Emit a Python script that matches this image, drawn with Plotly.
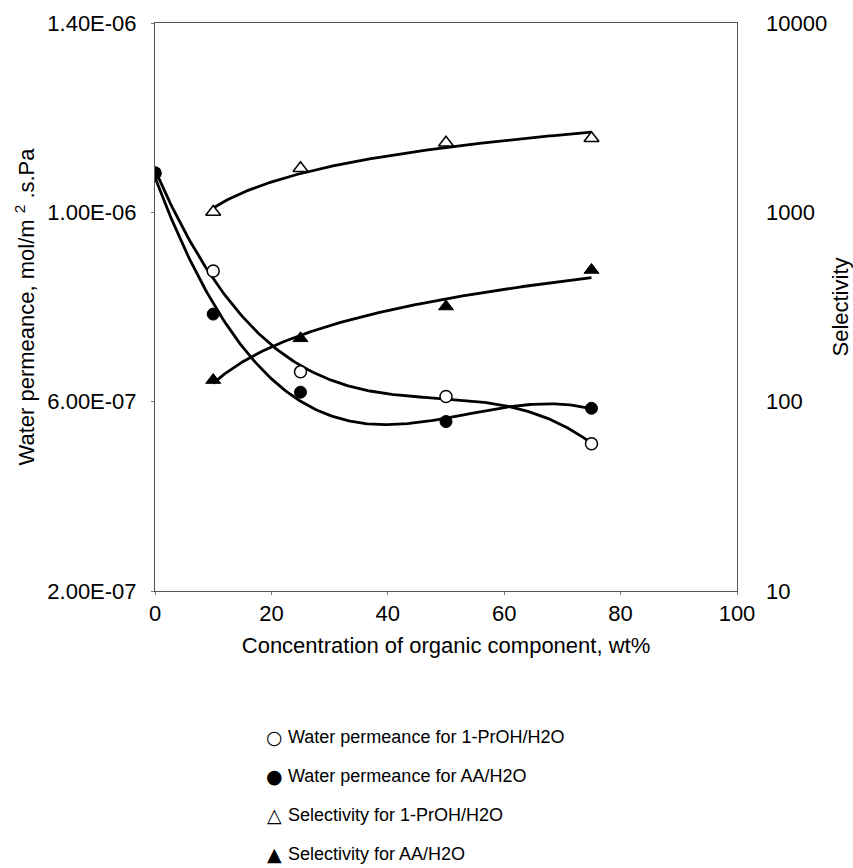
import numpy as np
import plotly.graph_objects as go

# Concentration of organic component (wt%)
conc_perm = [0, 10, 25, 50, 75]
conc_sel = [10, 25, 50, 75]

# Water permeance, mol/m2.s.Pa
perm_proh = [1.083e-6, 0.876e-6, 0.663e-6, 0.611e-6, 0.511e-6]
perm_aa = [1.083e-6, 0.785e-6, 0.620e-6, 0.558e-6, 0.586e-6]

# Selectivity
sel_proh = [1005, 1710, 2330, 2460]
sel_aa = [130, 216, 318, 496]

y1_ticks = [2.0e-7, 6.0e-7, 1.0e-6, 1.4e-6]
y1_ticktext = ["2.00E-07", "6.00E-07", "1.00E-06", "1.40E-06"]
y2_ticks = [10, 100, 1000, 10000]
y2_ticktext = ["10", "100", "1000", "10000"]

series_names = [
    "Water permeance for 1-PrOH/H2O",
    "Water permeance for AA/H2O",
    "Selectivity for 1-PrOH/H2O",
    "Selectivity for AA/H2O",
]
series_glyphs = ["○", "●", "△", "▲"]
glyph_sizes = [19, 19, 19, 19]

FONT = "Liberation Sans, Arial, sans-serif"
BLACK = "#000000"


def poly_trend(x, y, deg=3, n=200):
    """Polynomial trendline across the data range."""
    c = np.polyfit(x, y, deg)
    xs = np.linspace(min(x), max(x), n)
    return xs, np.polyval(c, xs)


def power_trend(x, y, n=200):
    """Power trendline y = a*x^b (least squares in log-log space)."""
    b, ln_a = np.polyfit(np.log(x), np.log(y), 1)
    xs = np.linspace(min(x), max(x), n)
    return xs, np.exp(ln_a) * xs ** b


fig = go.Figure()

line_style = dict(color=BLACK, width=2.8)

# trendlines
for xs, ys, axis in [
    (*poly_trend(conc_perm, perm_proh), "y"),
    (*poly_trend(conc_perm, perm_aa), "y"),
    (*power_trend(conc_sel, sel_proh), "y2"),
    (*power_trend(conc_sel, sel_aa), "y2"),
]:
    fig.add_trace(go.Scatter(x=xs, y=ys, mode="lines", line=line_style,
                             yaxis=axis, showlegend=False, hoverinfo="skip"))

# data markers
markers = [
    (conc_perm, perm_proh, "y", dict(symbol="circle", color="white", size=12,
                                      line=dict(color=BLACK, width=1.5))),
    (conc_perm, perm_aa, "y", dict(symbol="circle", color=BLACK, size=12,
                                    line=dict(color=BLACK, width=1))),
    (conc_sel, sel_proh, "y2", dict(symbol="triangle-up", color="white", size=13,
                                     line=dict(color=BLACK, width=1.5))),
    (conc_sel, sel_aa, "y2", dict(symbol="triangle-up", color=BLACK, size=13,
                                   line=dict(color=BLACK, width=1))),
]
for i, (x, y, axis, mk) in enumerate(markers):
    fig.add_trace(go.Scatter(x=x, y=y, mode="markers", marker=mk, yaxis=axis,
                             name=series_names[i], showlegend=False))

# key below the chart: symbol + label per series
key_annotations = []
plot_left, plot_w = 155, 582
plot_bottom, plot_h = 591, 568
for i, (glyph, label) in enumerate(zip(series_glyphs, series_names)):
    row_y = (plot_bottom - (737 + 39 * i)) / plot_h
    key_annotations.append(dict(
        text=glyph, xref="paper", yref="paper",
        x=(274 - plot_left) / plot_w, y=row_y,
        xanchor="center", yanchor="middle", showarrow=False,
        font=dict(family="DejaVu Sans", size=glyph_sizes[i], color=BLACK),
    ))
    key_annotations.append(dict(
        text=label, xref="paper", yref="paper",
        x=(286 - plot_left) / plot_w, y=row_y,
        xanchor="left", yanchor="middle", showarrow=False,
        font=dict(family=FONT, size=18, color=BLACK),
    ))

fig.update_layout(
    width=853,
    height=868,
    margin=dict(l=155, r=116, t=23, b=277),
    paper_bgcolor="white",
    plot_bgcolor="white",
    font=dict(family=FONT, color=BLACK, size=22),
    showlegend=False,
    annotations=key_annotations,
    xaxis=dict(
        range=[0, 100],
        tickvals=[0, 20, 40, 60, 80, 100],
        showgrid=False, zeroline=False, automargin=False,
        showline=True, linecolor="#555555", linewidth=1, mirror=True,
        ticks="outside", ticklen=3, tickcolor="#777777",
        tickfont=dict(size=22),
        title=dict(text="Concentration of organic component, wt%",
                   font=dict(size=22), standoff=12),
    ),
    yaxis=dict(
        range=[2.0e-7, 1.4e-6],
        tickvals=y1_ticks, ticktext=y1_ticktext,
        showgrid=False, zeroline=False, automargin=False,
        showline=True, linecolor="#555555", linewidth=1, mirror=True,
        ticks="outside", ticklen=3, tickcolor="#777777",
        ticklabelstandoff=10,
        tickfont=dict(size=22),
        title=dict(text="Water permeance, mol/m <sup>2</sup> .s.Pa",
                   font=dict(size=22), standoff=6),
    ),
    yaxis2=dict(
        type="log",
        range=[1, 4],
        overlaying="y", side="right",
        tickvals=y2_ticks, ticktext=y2_ticktext,
        showgrid=False, zeroline=False, automargin=False,
        showline=False,
        ticks="", ticklabelstandoff=28,
        tickfont=dict(size=22),
        title=dict(text="Selectivity", font=dict(size=22), standoff=10),
    ),
)

fig.write_html("out.html")
